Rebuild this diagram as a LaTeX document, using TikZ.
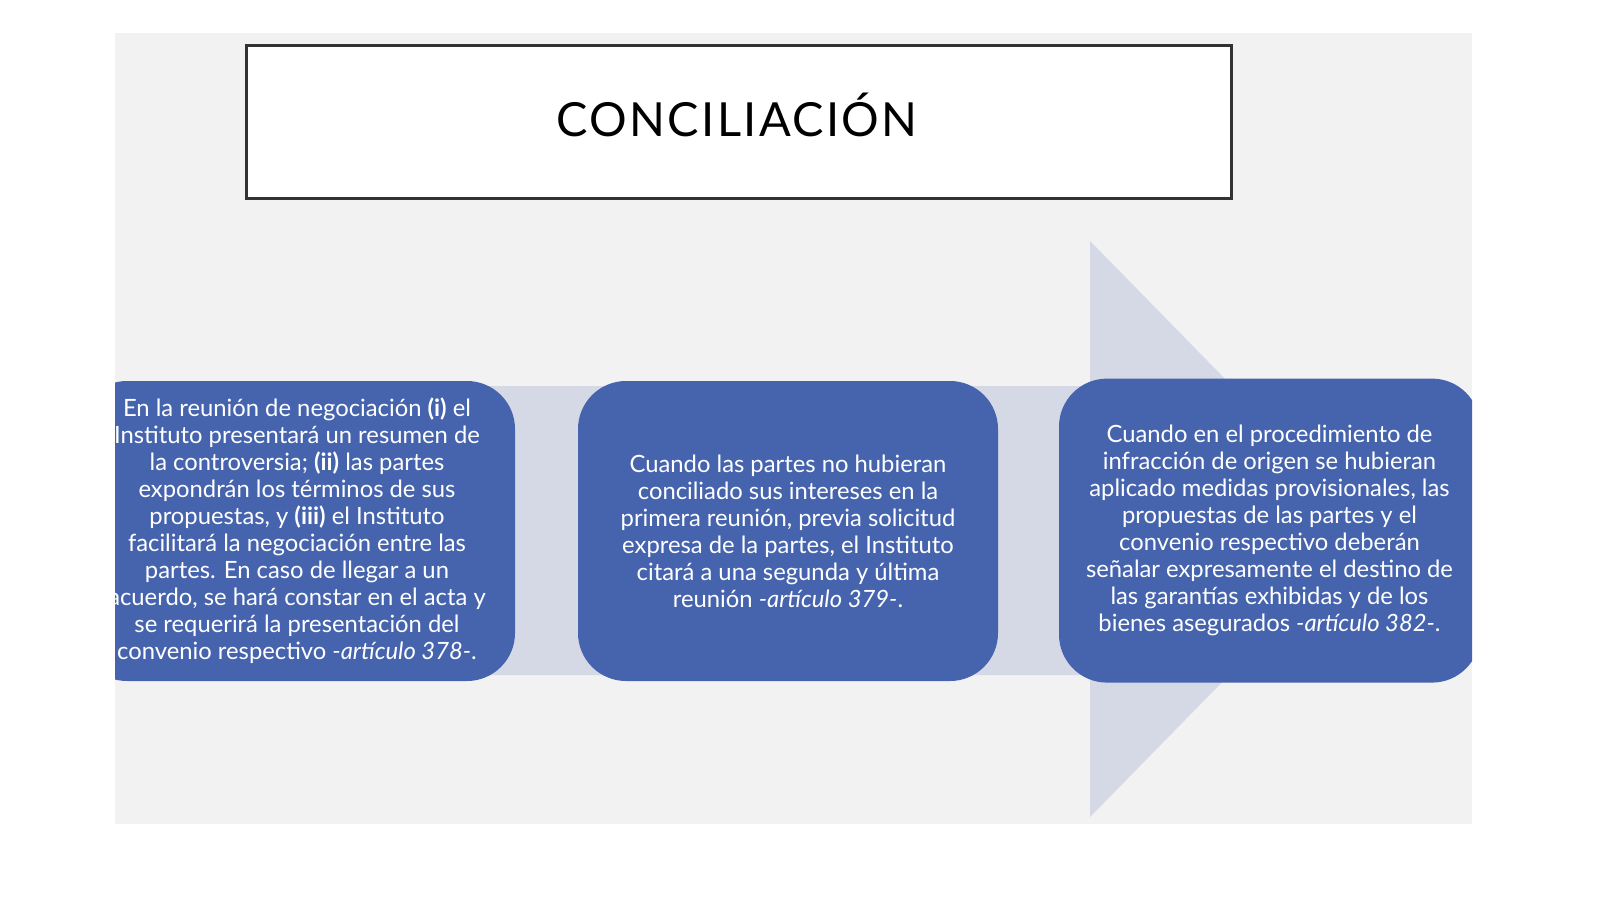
\documentclass[tikz,border=0pt]{standalone}
\usepackage{fontspec}
\setmainfont{Lato}
\newfontfamily\titlefont[LetterSpace=5]{Lato}
\definecolor{panelgray}{HTML}{F2F2F2}
\definecolor{arrowgray}{HTML}{D5D8E5}
\definecolor{boxblue}{HTML}{4664AE}
\definecolor{framegray}{HTML}{333333}
\tikzset{
  stepbox/.style={rectangle, rounded corners=24pt, fill=boxblue, text=white,
    align=center, inner sep=0pt, font=\fontsize{11.9pt}{13.5pt}\selectfont},
  titlebox/.style={rectangle, draw=framegray, line width=1.5pt, fill=white,
    inner sep=0pt},
  titletext/.style={inner sep=0pt, font=\titlefont\fontsize{23.5pt}{28pt}\selectfont}
}
\begin{document}
\begin{tikzpicture}[x=0.5pt,y=-0.5pt]
\useasboundingbox (0,0) rectangle (1600,900);
\fill[white] (0,0) rectangle (1600,900);
% slide panel
\fill[panelgray] (115,33) rectangle (1472,824);
% big arrow
\fill[arrowgray] (115,386) -- (1090,386) -- (1090,241) -- (1372,529)
  -- (1090,817) -- (1090,675) -- (115,675) -- cycle;
% title
\node[titlebox, minimum width=492.5pt, minimum height=76.5pt] (title) at (738.5,121.5) {};
\node[titletext, anchor=base] (titlelabel) at (737,136) {CONCILIACIÓN};
% boxes, clipped by the slide
\begin{scope}
\clip (115,33) rectangle (1472,824);
\node[stepbox, minimum width=218pt, minimum height=150pt] (b1) at (297,531) {%
En la reunión de negociación \textbf{(i)} el\\
Instituto presentará un resumen de\\
la controversia; \textbf{(ii)} las partes\\
expondrán los términos de sus\\
propuestas, y \textbf{(iii)} el Instituto\\
facilitará la negociación entre las\\
partes. En caso de llegar a un\\
acuerdo, se hará constar en el acta y\\
se requerirá la presentación del\\
convenio respectivo \textit{-artículo 378-}.};
\node[stepbox, minimum width=210pt, minimum height=150pt] (b2) at (788,531) {%
Cuando las partes no hubieran\\
conciliado sus intereses en la\\
primera reunión, previa solicitud\\
expresa de la partes, el Instituto\\
citará a una segunda y última\\
reunión \textit{-artículo 379-}.};
\node[stepbox, minimum width=210.5pt, minimum height=152pt] (b3) at (1269.5,530.6) {%
Cuando en el procedimiento de\\
infracción de origen se hubieran\\
aplicado medidas provisionales, las\\
propuestas de las partes y el\\
convenio respectivo deberán\\
señalar expresamente el destino de\\
las garantías exhibidas y de los\\
bienes asegurados \textit{-artículo 382-}.};
\end{scope}
\end{tikzpicture}
\end{document}
